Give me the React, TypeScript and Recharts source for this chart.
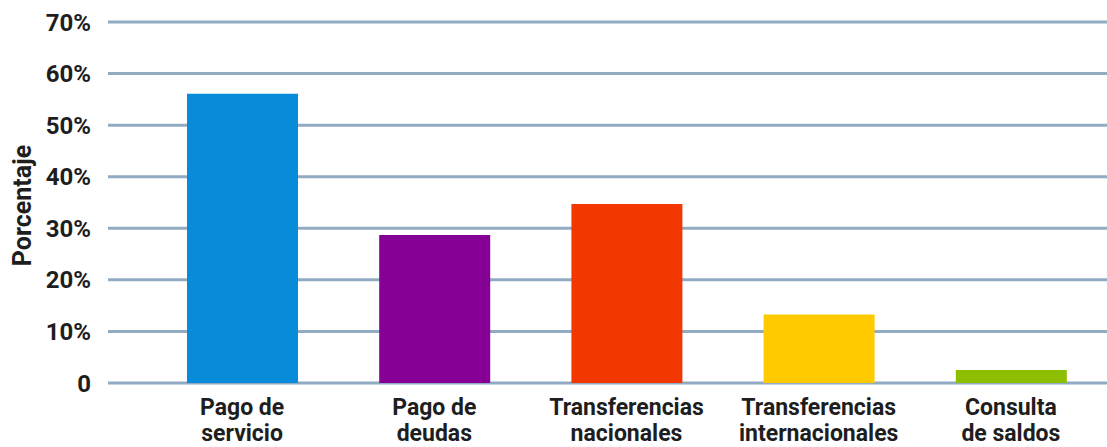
import React from 'react';
import { BarChart, Bar, XAxis, YAxis, CartesianGrid, Cell, Label } from 'recharts';

const categories = [
  'Pago de\nservicio',
  'Pago de\ndeudas',
  'Transferencias\nnacionales',
  'Transferencias\ninternacionales',
  'Consulta\nde saldos',
];
const values = [56.1, 28.7, 34.7, 13.3, 2.5];
const colors = ['#088bd8', '#860096', '#f23800', '#ffcb00', '#8dbe00'];
const yTicks = [0, 10, 20, 30, 40, 50, 60, 70];

const data = categories.map((name, i) => ({ name, value: values[i] }));

const FONT = 'Roboto, "Noto Sans", sans-serif';
const TEXT = '#1e1e1e';

const CategoryTick = (props: any) => {
  const { x, y, payload } = props;
  const lines = String(payload.value).split('\n');
  return (
    <g>
      {lines.map((line, i) => (
        <text
          key={line}
          x={x}
          y={y + 32 + i * 26}
          textAnchor="middle"
          fill={TEXT}
          fontFamily={FONT}
          fontWeight={700}
          fontSize={23}
        >
          {line}
        </text>
      ))}
    </g>
  );
};

const YTitle = (props: any) => {
  const { viewBox } = props;
  const cx = 22;
  const cy = viewBox.y + viewBox.height / 2 + 3;
  return (
    <text
      x={cx}
      y={cy}
      transform={`rotate(-90, ${cx}, ${cy})`}
      textAnchor="middle"
      dominantBaseline="central"
      fill={TEXT}
      fontFamily={FONT}
      fontWeight={700}
      fontSize={25}
    >
      Porcentaje
    </text>
  );
};

export default function App() {
  return (
    <div style={{ position: 'absolute', left: 0, top: 0, background: '#fff' }}>
      <BarChart
        width={1107}
        height={447}
        data={data}
        margin={{ top: 22, right: 0, bottom: 0, left: 0 }}
      >
        <CartesianGrid vertical={false} stroke="#90abc2" strokeWidth={3} />
        <XAxis
          dataKey="name"
          height={64}
          axisLine={false}
          tickLine={false}
          tickSize={0}
          tickMargin={0}
          interval={0}
          padding={{ left: 38, right: 0 }}
          tick={<CategoryTick />}
        />
        <YAxis
          width={108}
          domain={[0, 70]}
          ticks={yTicks}
          axisLine={false}
          tickLine={false}
          tickSize={0}
          tickMargin={17}
          interval={0}
          tickFormatter={(v: number) => (v === 0 ? '0' : `${v}%`)}
          tick={{ fill: TEXT, fontFamily: FONT, fontWeight: 700, fontSize: 24 }}
        >
          <Label content={<YTitle />} />
        </YAxis>
        <Bar dataKey="value" barSize={111} isAnimationActive={false}>
          {data.map((d, i) => (
            <Cell key={d.name} fill={colors[i]} />
          ))}
        </Bar>
      </BarChart>
    </div>
  );
}
